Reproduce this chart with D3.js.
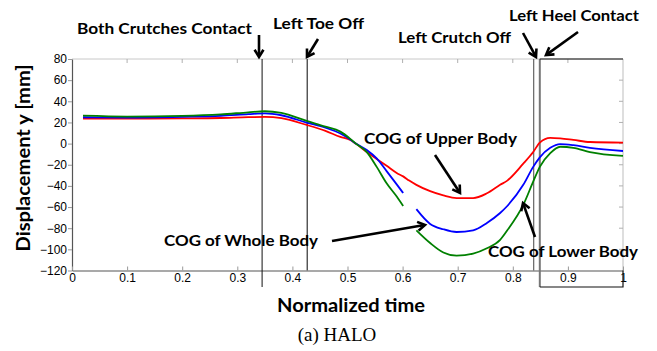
<!DOCTYPE html>
<html>
<head>
<meta charset="utf-8">
<script src="https://cdn.jsdelivr.net/npm/d3@7"></script>
<style>
  html, body { margin: 0; padding: 0; background: #fff; }
  svg { display: block; }
</style>
</head>
<body>
<svg id="chart" width="657" height="351"></svg>
<script>
// Normalized gait-cycle time samples (null in a series = no data)
const time = [0.02, 0.1, 0.2, 0.27, 0.32, 0.35, 0.38, 0.426, 0.46, 0.487, 0.505, 0.515,
              0.535, 0.553, 0.571, 0.59, 0.601, 0.612, 0.625, 0.65, 0.674, 0.698, 0.728,
              0.753, 0.777, 0.79, 0.819, 0.837, 0.849, 0.868, 0.886, 0.91, 0.94, 1.0];

// Vertical displacement of each centre of gravity [mm]
const upperBody = [23.6, 23.6, 23.8, 24.2, 25, 25.2, 24, 17.6, 12, 6.3, 3.4, 0,
                   -8, -14.5, -21, -28, -31, -35, -39, -45, -49, -51.5, -51.5,
                   -47, -39, -35, -19, -8, 1, 5.5, 5, 3.5, 1.5, 1];
const wholeBody = [24.9, 24.6, 25.3, 26.2, 27.8, 28.6, 26.8, 19.8, 15, 9.5, 3.8, 0,
                   -6, -14, -26, -39, -46.7, null, -62, -76, -81, -83.6, -82,
                   -75, -65.6, -59, -39, -22, -13, -4, -0.5, -1.5, -4, -7];
const lowerBody = [26.4, 25.6, 26.2, 27.6, 29.6, 30.6, 29, 21.4, 16, 11.3, 4.5, 0,
                   -8, -22, -37.5, -50.5, -59, null, -82, -94, -103, -106, -104,
                   -99, -91, -82, -58, -36, -22, -9, -3, -4, -8, -11.7];

const seriesNames = ["COG of Upper Body", "COG of Whole Body", "COG of Lower Body"];
const seriesColors = ["#ff0000", "#0000ff", "#008000"];

// Gait events (normalized time)
const eventNames = ["Both Crutches Contact", "Left Toe Off", "Left Crutch Off", "Left Heel Contact"];
const eventTimes = [0.345, 0.427, 0.838, 0.849];

const xTicks = [0, 0.1, 0.2, 0.3, 0.4, 0.5, 0.6, 0.7, 0.8, 0.9, 1];
const xTickLabels = ["0", "0.1", "0.2", "0.3", "0.4", "0.5", "0.6", "0.7", "0.8", "0.9", "1"];
const yTicks = [-120, -100, -80, -60, -40, -20, 0, 20, 40, 60, 80];

const svg = d3.select("#chart");
const plotLeft = 72, plotRight = 623, plotTop = 59, plotBottom = 270.5;

const x = d3.scaleLinear().domain([0, 1]).range([plotLeft, plotRight]);
const y = d3.scaleLinear().domain([-120, 80]).range([plotBottom, plotTop]);

const labelFont = "Lato, 'Open Sans', sans-serif";
const tickFont = "'Liberation Sans', Arial, sans-serif";

// Box: light top and right borders with inner ticks
svg.append("line").attr("x1", plotLeft).attr("x2", plotRight).attr("y1", plotTop).attr("y2", plotTop)
  .attr("stroke", "#c8c8c8").attr("stroke-width", 1);
svg.append("line").attr("x1", plotRight).attr("x2", plotRight).attr("y1", plotTop).attr("y2", plotBottom)
  .attr("stroke", "#c8c8c8").attr("stroke-width", 1.2);
svg.append("g").selectAll("line").data(xTicks.slice(1, -1)).join("line")
  .attr("x1", d => x(d)).attr("x2", d => x(d)).attr("y1", plotTop).attr("y2", plotTop + 4)
  .attr("stroke", "#b0b0b0");
svg.append("g").selectAll("line").data(yTicks.slice(1, -1)).join("line")
  .attr("x1", plotRight - 4).attr("x2", plotRight).attr("y1", d => y(d)).attr("y2", d => y(d))
  .attr("stroke", "#b0b0b0");

// Left axis
const yAxis = svg.append("g").attr("transform", `translate(${plotLeft},0)`)
  .call(d3.axisLeft(y).tickValues(yTicks).tickSize(4).tickSizeOuter(0).tickPadding(1));
yAxis.select(".domain").attr("stroke", "#555").attr("stroke-width", 1.2);
yAxis.selectAll(".tick line").attr("stroke", "#999");
yAxis.selectAll("text").attr("font-family", tickFont).attr("font-size", 12).attr("fill", "#000");

// Bottom axis (ticks point into the plot)
const xAxis = svg.append("g").attr("transform", `translate(0,${plotBottom})`)
  .call(d3.axisBottom(x).tickValues(xTicks).tickFormat((d, i) => xTickLabels[i])
    .tickSizeInner(-4).tickSizeOuter(0).tickPadding(3));
xAxis.select(".domain").attr("stroke", "#555").attr("stroke-width", 1.2);
xAxis.selectAll(".tick line").attr("stroke", "#999");
xAxis.selectAll("text").attr("font-family", tickFont).attr("font-size", 12).attr("fill", "#000");

// Event lines
const lineStyles = [
  { stroke: "#111", width: 1, y2: 287 },
  { stroke: "#555", width: 1.5, y2: plotBottom },
  { stroke: "#444", width: 1, y2: plotBottom },
  { stroke: "#777", width: 2, y2: 287 }
];
svg.append("g").selectAll("line").data(eventTimes).join("line")
  .attr("x1", d => x(d)).attr("x2", d => x(d))
  .attr("y1", plotTop).attr("y2", (d, i) => lineStyles[i].y2)
  .attr("stroke", (d, i) => lineStyles[i].stroke)
  .attr("stroke-width", (d, i) => lineStyles[i].width);

// Frame around the final phase
const tHeel = eventTimes[3];
svg.append("path")
  .attr("d", `M${x(tHeel)},${plotTop}H${x(1)}`)
  .attr("fill", "none").attr("stroke", "#111").attr("stroke-width", 1.2);
svg.append("path")
  .attr("d", `M${x(1)},${plotBottom}V287H${x(tHeel)}`)
  .attr("fill", "none").attr("stroke", "#111").attr("stroke-width", 1.2);

// COG curves
const values = [upperBody, wholeBody, lowerBody];
const line = d3.line()
  .defined(d => d[1] !== null)
  .x(d => x(d[0])).y(d => y(d[1]))
  .curve(d3.curveMonotoneX);
svg.append("g").selectAll("path").data(values).join("path")
  .attr("d", v => line(time.map((t, i) => [t, v[i]])))
  .attr("fill", "none")
  .attr("stroke", (d, i) => seriesColors[i])
  .attr("stroke-width", 1.8)
  .attr("stroke-linejoin", "round");

// Annotation text
const notes = [
  { text: eventNames[0], x: 77, y: 34, w: 175 },
  { text: eventNames[1], x: 273, y: 28.5, w: 91 },
  { text: eventNames[2], x: 398, y: 42.5, w: 113 },
  { text: eventNames[3], x: 509, y: 21, w: 130 },
  { text: seriesNames[0], x: 364, y: 143.5, w: 153 },
  { text: seriesNames[1], x: 164, y: 245.5, w: 154 },
  { text: seriesNames[2], x: 488, y: 256.5, w: 150 }
];
svg.append("g").selectAll("text").data(notes).join("text")
  .attr("x", d => d.x).attr("y", d => d.y)
  .attr("font-family", labelFont).attr("font-weight", 700).attr("font-size", 15)
  .attr("textLength", d => d.w).attr("lengthAdjust", "spacingAndGlyphs")
  .text(d => d.text);

// Arrows
const arrows = [
  [259, 35, 259, 57],
  [318, 39, 307, 57],
  [523, 33, 536, 57],
  [578, 32, 546, 55],
  [435, 155, 460, 193],
  [332, 241, 425, 225],
  [535, 237, 523, 203]
];
const ag = svg.append("g").attr("stroke", "#000").attr("stroke-width", 2.6)
  .attr("fill", "none").attr("stroke-linecap", "butt");
arrows.forEach(([x1, y1, x2, y2]) => {
  const a = Math.atan2(y2 - y1, x2 - x1);
  const h = 8.5, s = 0.55;
  const tip = [x2, y2];
  const p1 = [x2 - h * Math.cos(a - s), y2 - h * Math.sin(a - s)];
  const p2 = [x2 - h * Math.cos(a + s), y2 - h * Math.sin(a + s)];
  ag.append("line").attr("x1", x1).attr("y1", y1)
    .attr("x2", x2 - 2 * Math.cos(a)).attr("y2", y2 - 2 * Math.sin(a));
  ag.append("path").attr("d", `M${p1}L${tip}L${p2}`).attr("stroke-linejoin", "miter");
});

// Axis titles
svg.append("text")
  .attr("transform", "translate(30,158) rotate(-90)")
  .attr("text-anchor", "middle")
  .attr("font-family", labelFont).attr("font-weight", 700).attr("font-size", 18)
  .attr("textLength", 187).attr("lengthAdjust", "spacingAndGlyphs")
  .text("Displacement y [mm]");
svg.append("text")
  .attr("x", 351).attr("y", 312).attr("text-anchor", "middle")
  .attr("font-family", labelFont).attr("font-weight", 700).attr("font-size", 18)
  .attr("textLength", 148).attr("lengthAdjust", "spacingAndGlyphs")
  .text("Normalized time");
svg.append("text")
  .attr("x", 337).attr("y", 341).attr("text-anchor", "middle")
  .attr("font-family", "'Liberation Serif', 'Times New Roman', serif").attr("font-size", 19)
  .text("(a) HALO");
</script>
</body>
</html>
